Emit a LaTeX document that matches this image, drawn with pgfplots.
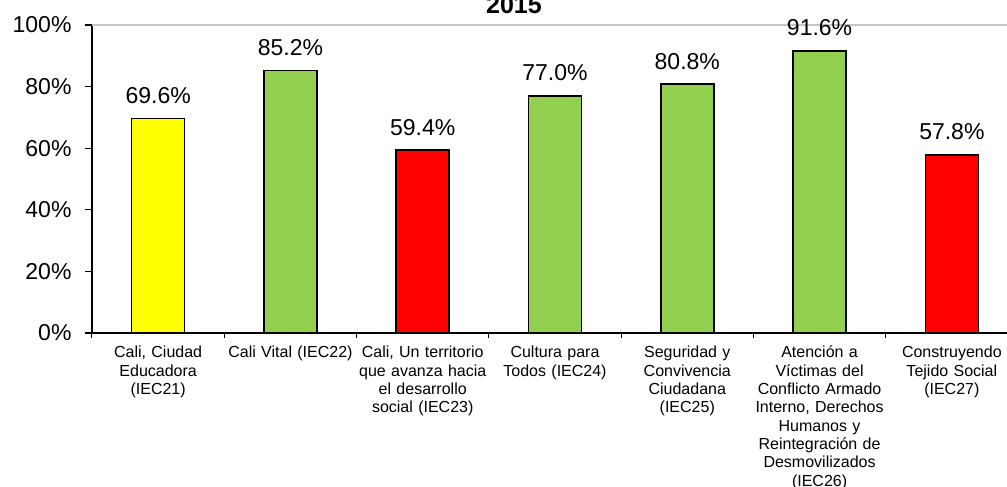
\documentclass[border=0pt]{standalone}
\usepackage{pgfplots}
\pgfplotsset{compat=1.18}
\usepackage{fontspec}
\setmainfont{Liberation Sans}
\definecolor{cgreen}{HTML}{92D050}
\definecolor{cyellow}{HTML}{FFFF00}
\definecolor{cred}{HTML}{FF0000}
\begin{document}
\begin{tikzpicture}[x=1pt,y=1pt]
\begin{axis}[
  at={(92pt,154pt)}, anchor=south west,
  scale only axis, width=926pt, height=308pt,
  xmin=-0.5, xmax=6.5, ymin=0, ymax=100,
  ybar, bar width=53pt,
  axis x line*=bottom, axis y line*=left,
  axis line style={-, black, line width=1.2pt},
  tick align=outside,
  ytick={0,20,40,60,80,100},
  yticklabels={0\%,20\%,40\%,60\%,80\%,100\%},
  yticklabel style={font=\fontsize{23}{27}\selectfont, xshift=-10pt},
  ytick style={black, line width=1.2pt},
  major tick length=7pt,
  xtick={0,1,2,3,4,5,6},
  x tick style={draw=none},
  minor xtick={-0.5,0.5,1.5,2.5,3.5,4.5,5.5,6.5},
  minor x tick style={draw=black, line width=1pt},
  minor tick length=5pt,
  xticklabels={
    {Cali, Ciudad\\Educadora\\(IEC21)},
    {Cali Vital (IEC22)},
    {Cali, Un territorio\\que avanza hacia\\el desarrollo\\social (IEC23)},
    {Cultura para\\Todos (IEC24)},
    {Seguridad y\\Convivencia\\Ciudadana\\(IEC25)},
    {Atención a\\Víctimas del\\Conflicto Armado\\Interno, Derechos\\Humanos y\\Reintegración de\\Desmovilizados\\(IEC26)},
    {Construyendo\\Tejido Social\\(IEC27)}},
  xticklabel style={font=\fontsize{16}{18.3}\selectfont, text width=135pt, align=center, anchor=north, inner sep=0pt, yshift=-6pt},
  extra y ticks={100}, extra y tick labels={},
  extra y tick style={grid=major, major grid style={gray!45, line width=1.5pt}, tick style={draw=none}},
  /pgf/number format/assume math mode=true,
  nodes near coords={\pgfmathprintnumber[fixed,fixed zerofill,precision=1]{\pgfplotspointmeta}\%},
  every node near coord/.append style={font=\fontsize{23}{27}\selectfont, anchor=base, yshift=15pt, black},
  clip=false,
]
\addplot[bar shift=0pt, fill=cyellow, draw=black, line width=1.5pt] coordinates {(0,69.6)};
\addplot[bar shift=0pt, fill=cgreen, draw=black, line width=1.5pt] coordinates {(1,85.2) (3,77.0) (4,80.8) (5,91.6)};
\addplot[bar shift=0pt, fill=cred, draw=black, line width=1.5pt] coordinates {(2,59.4) (6,57.8)};
\end{axis}
\node[font=\bfseries\fontsize{25}{30}\selectfont, anchor=base] at (514pt,473pt) {2015};
\pgfresetboundingbox
\path[use as bounding box] (0,0) rectangle (1007pt,487pt);
\end{tikzpicture}
\end{document}
